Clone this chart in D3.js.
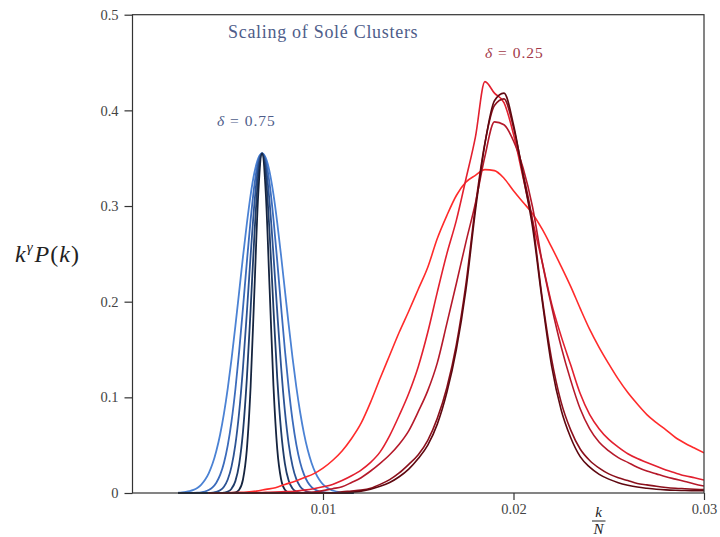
<!DOCTYPE html>
<html>
<head>
<meta charset="utf-8">
<script src="https://cdn.jsdelivr.net/npm/d3@7"></script>
<style>
  body { margin: 0; background: #fff; }
  svg text { font-family: "Liberation Serif", "Times New Roman", serif; }
</style>
</head>
<body>
<div id="chart"></div>
<script>

// ---- data ----

// k/N grid for the delta = 0.75 clusters
var kBlue = [0.0024,0.0026,0.0028,0.0030,0.0032,0.0034,0.0036,0.0038,0.0040,
             0.0042,0.0044,0.0046,0.0048,0.0050,0.0052,0.0054,0.0056,0.0058,0.0060,
             0.0062,0.0064,0.0066,0.0068,0.0070,0.0072,0.0074,0.0076,0.0078,0.0080,
             0.0082,0.0084,0.0086,0.0088,0.0090,0.0092,0.0094,0.0096,0.0098,0.0100,
             0.0102,0.0104,0.0106,0.0108,0.0110,0.0112,0.0114,0.0116];

// widest (light blue) -> narrowest (navy)
var blue1 = [0.0003,0.0006,0.0011,0.0019,0.0032,0.0053,0.0086,0.0135,0.0206,0.0305,0.0440,
             0.0612,0.0830,0.1095,0.1402,0.1744,0.2105,0.2470,0.2812,0.3115,0.3350,0.3498,
             0.3550,
             0.3500,0.3354,0.3121,0.2822,0.2480,0.2118,0.1757,0.1416,0.1108,0.0844,0.0624,
             0.0449,0.0314,0.0213,0.0141,0.0090,0.0057,0.0035,0.0021,0.0012,0.0007,0.0004,
             0.0002,0.0001];
var blue2 = [0,0,0,0,0.0001,0.0003,0.0007,0.0015,0.0031,0.0059,0.0108,
             0.0189,0.0314,0.0498,0.0752,0.1082,0.1483,0.1936,0.2408,0.2854,0.3222,0.3465,
             0.3550,
             0.3468,0.3228,0.2862,0.2418,0.1948,0.1495,0.1094,0.0762,0.0506,0.0320,0.0194,
             0.0112,0.0062,0.0033,0.0016,0.0008,0.0004,0.0002,0.0001,0,0,0,
             0,0];
var blue3 = [0,0,0,0,0,0,0,0,0.0001,0.0004,0.0011,
             0.0029,0.0066,0.0141,0.0278,0.0505,0.0847,0.1312,0.1877,0.2481,0.3027,0.3411,
             0.3550,
             0.3413,0.3031,0.2487,0.1885,0.1320,0.0855,0.0511,0.0283,0.0145,0.0069,0.0031,
             0.0012,0.0005,0.0002,0,0,0,0,0,0,0,0,
             0,0];
var blue4 = [0,0,0,0,0,0,0,0,0,0,0,
             0.0001,0.0004,0.0014,0.0045,0.0124,0.0302,0.0642,0.1188,0.1918,0.2700,0.3315,
             0.3550,
             0.3318,0.2706,0.1926,0.1196,0.0650,0.0307,0.0127,0.0047,0.0015,0.0004,0.0001,
             0,0,0,0,0,0,0,0,0,0,0,
             0,0];
var blue5 = [0,0,0,0,0,0,0,0,0,0,0,
             0,0,0,0.0001,0.0006,0.0034,0.0141,0.0451,0.1112,0.2119,0.3120,
             0.3550,
             0.3122,0.2124,0.1118,0.0456,0.0144,0.0035,0.0007,0.0001,0,0,0,
             0,0,0,0,0,0,0,0,0,0,0,
             0,0];
var blueColors = ["#4b82d4", "#3b6bbb", "#2c5394", "#1f3c69", "#15243f"];

// k/N grid for the delta = 0.25 clusters
var kRed = [0.0040,0.0045,0.0050,0.0055,0.0060,0.0065,0.0070,0.0075,0.0080,0.0085,
            0.0090,0.0095,0.0100,0.0105,0.0110,0.0115,0.0120,0.0125,0.0130,0.0135,
            0.0140,0.0145,0.0150,0.0155,0.0160,0.0165,0.0170,0.0175,0.0180,0.0185,
            0.0190,0.0195,0.0200,0.0205,0.0210,0.0215,0.0220,0.0225,0.0230,0.0235,
            0.0240,0.0245,0.0250,0.0255,0.0260,0.0265,0.0270,0.0275,0.0280,0.0285,
            0.0290,0.0295,0.0300];

var red1 = [0,0,0.0003,0.0006,0.0010,0.0020,0.0038,0.0055,0.0090,0.0120,
            0.0160,0.0200,0.0260,0.0340,0.0440,0.0570,0.0730,0.0950,0.1200,0.1440,
            0.1680,0.1900,0.2130,0.2360,0.2660,0.2900,0.3110,0.3250,0.3320,0.3380,
            0.3370,0.3290,0.3160,0.3040,0.2920,0.2760,0.2570,0.2370,0.2160,0.1930,
            0.1710,0.1520,0.1350,0.1190,0.1050,0.0930,0.0820,0.0735,0.0660,0.0580,
            0.0520,0.0470,0.0420];
var red2 = [0,0,0,0,0.0002,0.0004,0.0007,0.0010,0.0014,0.0018,
            0.0030,0.0045,0.0065,0.0090,0.0130,0.0180,0.0240,0.0320,0.0430,0.0600,
            0.0810,0.1040,0.1320,0.1680,0.2100,0.2500,0.2850,0.3280,0.3720,0.4300,
            0.4180,0.4080,0.3750,0.3300,0.2850,0.2420,0.1980,0.1640,0.1340,0.1040,
            0.0820,0.0670,0.0560,0.0480,0.0410,0.0360,0.0320,0.0280,0.0240,0.0210,
            0.0180,0.0160,0.0136];
var red3 = [0,0,0,0,0,0,0,0,0,0,
            0.0005,0.0010,0.0025,0.0045,0.0065,0.0110,0.0160,0.0230,0.0310,0.0400,
            0.0510,0.0650,0.0850,0.1070,0.1360,0.1770,0.2190,0.2620,0.3030,0.3520,
            0.3880,0.3850,0.3680,0.3400,0.2990,0.2420,0.1950,0.1530,0.1180,0.0880,
            0.0670,0.0530,0.0440,0.0370,0.0320,0.0270,0.0230,0.0200,0.0170,0.0145,
            0.0120,0.0095,0.0073];
var red4 = [0,0,0,0,0,0,0,0,0,0,
            0,0,0,0,0.0012,0.0020,0.0030,0.0050,0.0090,0.0140,
            0.0210,0.0300,0.0400,0.0550,0.0780,0.1100,0.1550,0.2180,0.3000,0.3660,
            0.4050,0.4120,0.3820,0.3350,0.2840,0.2050,0.1400,0.0950,0.0660,0.0460,
            0.0340,0.0260,0.0200,0.0160,0.0130,0.0100,0.0085,0.0070,0.0058,0.0050,
            0.0045,0.0040,0.0035];
var red5 = [0,0,0,0,0,0,0,0,0,0,
            0,0,0,0,0,0.0008,0.0020,0.0040,0.0070,0.0110,
            0.0170,0.0250,0.0360,0.0500,0.0720,0.1050,0.1500,0.2120,0.2950,0.3650,
            0.4100,0.4180,0.3850,0.3320,0.2780,0.2020,0.1330,0.0870,0.0580,0.0380,
            0.0270,0.0195,0.0145,0.0108,0.0082,0.0062,0.0049,0.0039,0.0033,0.0029,
            0.0026,0.0025,0.0024];
var redColors = ["#ff2b2b", "#e2202f", "#b5192a", "#8c101c", "#5e0810"];

var yTicks = [0, 0.1, 0.2, 0.3, 0.4, 0.5];
var xTicks = [0.01, 0.02, 0.03];

// ---- drawing ----

var margin = { top: 14.7, right: 16, bottom: 44, left: 132.5 };
var width = 720 - margin.left - margin.right,
    height = 537 - margin.top - margin.bottom;

var svg = d3.select("#chart").append("svg")
    .attr("width", 720)
    .attr("height", 537);

var g = svg.append("g")
    .attr("transform", "translate(" + margin.left + "," + margin.top + ")");

var x = d3.scaleLinear().domain([0, 0.03]).range([0, width]);
var y = d3.scaleLinear().domain([0, 0.5]).range([height, 0]);

var line = d3.line()
    .x(function(d) { return x(d[0]); })
    .y(function(d) { return y(d[1]); })
    .curve(d3.curveMonotoneX);

function pairs(ks, vs) {
    return ks.map(function(k, i) { return [k, vs[i]]; });
}

g.append("defs").append("clipPath").attr("id", "plotclip")
  .append("rect").attr("width", width).attr("height", height + 1);

var plot = g.append("g").attr("clip-path", "url(#plotclip)");

// delta = 0.75 (blue), wide ones underneath
[blue1, blue2, blue3, blue4, blue5].forEach(function(s, i) {
    plot.append("path")
        .datum(pairs(kBlue, s))
        .attr("d", line)
        .attr("fill", "none")
        .attr("stroke", blueColors[i])
        .attr("stroke-width", 1.8);
});

// delta = 0.25 (red)
[red1, red2, red3, red4, red5].forEach(function(s, i) {
    plot.append("path")
        .datum(pairs(kRed, s))
        .attr("d", line)
        .attr("fill", "none")
        .attr("stroke", redColors[i])
        .attr("stroke-width", 1.6);
});

// axes
var xAxis = g.append("g")
    .attr("transform", "translate(0," + height + ")")
    .call(d3.axisBottom(x).tickValues(xTicks).tickSize(7).tickPadding(4)
        .tickFormat(d3.format(".2f")));

var yAxis = g.append("g")
    .call(d3.axisLeft(y).tickValues(yTicks).tickSize(8).tickPadding(6)
        .tickFormat(function(d) { return d === 0 ? "0" : d3.format(".1f")(d); }));

[xAxis, yAxis].forEach(function(a) {
    a.select(".domain").remove();
    a.selectAll(".tick line").attr("stroke", "#333").attr("stroke-width", 1.2);
    a.selectAll(".tick text")
        .attr("fill", "#444")
        .style("font-family", "'Liberation Serif', serif")
        .style("font-size", "14.5px");
});

// frame
g.append("rect")
    .attr("width", width)
    .attr("height", height)
    .attr("fill", "none")
    .attr("stroke", "#333")
    .attr("stroke-width", 1.2);

// labels
svg.append("text")
    .attr("x", 228).attr("y", 38)
    .attr("fill", "#4e5d8a")
    .style("font-size", "18px")
    .style("letter-spacing", "0.7px")
    .text("Scaling of Solé Clusters");

svg.append("text")
    .attr("x", 217).attr("y", 126)
    .attr("fill", "#4e5d8a")
    .style("font-size", "15.5px")
    .style("letter-spacing", "1px")
    .html("<tspan font-style='italic'>δ</tspan> = 0.75");

svg.append("text")
    .attr("x", 485).attr("y", 58)
    .attr("fill", "#a33a48")
    .style("font-size", "15.5px")
    .style("letter-spacing", "1px")
    .html("<tspan font-style='italic'>δ</tspan> = 0.25");

// y label  k^γ P(k)
var yl = svg.append("text")
    .attr("x", 15).attr("y", 262)
    .attr("fill", "#222")
    .style("font-size", "24px")
    .style("letter-spacing", "1px");
yl.append("tspan").attr("font-style", "italic").text("k");
yl.append("tspan").attr("font-style", "italic").attr("dy", -10).style("font-size", "15px").text("γ");
yl.append("tspan").attr("font-style", "italic").attr("dy", 10).attr("dx", 1).text("P");
yl.append("tspan").text("(");
yl.append("tspan").attr("font-style", "italic").text("k");
yl.append("tspan").text(")");

// x label  k / N
svg.append("text")
    .attr("x", 598.5).attr("y", 517)
    .attr("text-anchor", "middle")
    .attr("font-style", "italic")
    .attr("fill", "#222")
    .style("font-size", "15px")
    .text("k");
svg.append("line")
    .attr("x1", 592).attr("x2", 605.5)
    .attr("y1", 521).attr("y2", 521)
    .attr("stroke", "#222").attr("stroke-width", 1);
svg.append("text")
    .attr("x", 598.5).attr("y", 534)
    .attr("text-anchor", "middle")
    .attr("font-style", "italic")
    .attr("fill", "#222")
    .style("font-size", "15px")
    .text("N");

</script>
</body>
</html>
